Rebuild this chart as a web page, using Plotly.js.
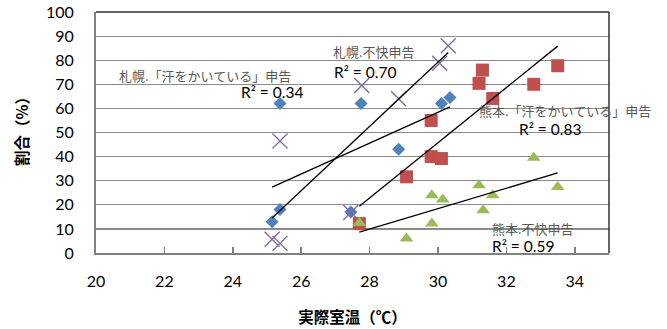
<!DOCTYPE html>
<html>
<head>
<meta charset="utf-8">
<script src="https://cdn.plot.ly/plotly-3.0.1.min.js"></script>
<style>html,body{margin:0;padding:0;background:#fff;}#chart{width:667px;height:329px;}</style>
</head>
<body>
<div id="chart"></div>
<script>
// 札幌「汗をかいている」申告 (blue diamonds)
const sapporoSweatX = [25.15, 25.38, 25.38, 27.45, 27.75, 28.85, 30.1, 30.35];
const sapporoSweatY = [13, 18, 62, 17, 62, 43, 62, 64.5];
// 札幌 不快申告 (purple x)
const sapporoDiscX = [25.15, 25.38, 25.38, 27.45, 27.77, 28.85, 30.05, 30.3];
const sapporoDiscY = [5.7, 4, 46.5, 16.8, 69.5, 64, 78.7, 86];
// 熊本「汗をかいている」申告 (red squares)
const kumaSweatX = [27.7, 29.08, 29.8, 29.8, 30.1, 31.2, 31.3, 31.6, 32.8, 33.5];
const kumaSweatY = [12.2, 31.6, 55, 40, 39.2, 70.4, 75.9, 64.1, 70, 77.7];
// 熊本 不快申告 (green triangles)
const kumaDiscX = [27.7, 29.08, 29.82, 29.82, 30.14, 31.2, 31.32, 31.6, 32.8, 33.5];
const kumaDiscY = [12.5, 6, 24, 12.2, 22.2, 28.1, 17.7, 24, 39.5, 27.4];

const xTicks = [20, 22, 24, 26, 28, 30, 32, 34];
const yTicks = [0, 10, 20, 30, 40, 50, 60, 70, 80, 90, 100];

const labels = ['札幌.「汗をかいている」申告', '札幌.不快申告', '熊本.「汗をかいている」申告', '熊本.不快申告'];
const r2Text = ['R² = 0.34', 'R² = 0.70', 'R² = 0.83', 'R² = 0.59'];
const xTitle = '実際室温（℃）';
const yTitle = '割合（%）';

function fit(xs, ys) {
  const n = xs.length;
  const mx = xs.reduce((a, b) => a + b, 0) / n;
  const my = ys.reduce((a, b) => a + b, 0) / n;
  let sxy = 0, sxx = 0;
  for (let i = 0; i < n; i++) { sxy += (xs[i] - mx) * (ys[i] - my); sxx += (xs[i] - mx) ** 2; }
  const b = sxy / sxx, a = my - b * mx;
  const x0 = Math.min(...xs), x1 = Math.max(...xs);
  return {x: [x0, x1], y: [a + b * x0, a + b * x1]};
}

const jp = '"Noto Sans CJK JP", sans-serif';
const num = 'Lato, "Noto Sans CJK JP", sans-serif';

const series = [
  {x: sapporoSweatX, y: sapporoSweatY, marker: {symbol: 'diamond', size: 10, color: '#4F81BD'}},
  {x: sapporoDiscX, y: sapporoDiscY, marker: {symbol: 'x-thin-open', size: 15, color: '#8064A2', line: {color: '#8064A2', width: 1.3}}},
  {x: kumaSweatX, y: kumaSweatY, marker: {symbol: 'square', size: 13, color: '#C0504D'}},
  {x: kumaDiscX, y: kumaDiscY, marker: {symbol: 'triangle-up', size: 12, color: '#9BBB59'}}
];

const traces = [];
series.forEach((s, i) => {
  traces.push({type: 'scatter', mode: 'markers', x: s.x, y: s.y, name: labels[i], marker: s.marker, cliponaxis: false, hoverinfo: 'x+y'});
});
series.forEach((s, i) => {
  const f = fit(s.x, s.y);
  traces.push({type: 'scatter', mode: 'lines', x: f.x, y: f.y, line: {color: '#000', width: 1.3}, hoverinfo: 'skip', name: labels[i] + ' 線形'});
});

const px2x = p => (p - 96) / 513;
const px2y = p => (253 - p) / 241;

const labPos = [[20.64, 73.6], [26.90, 83.6], [31.17, 59.0], [31.55, 10.0]];
const r2Pos = [[24.21, 66.7], [26.93, 74.9], [32.34, 51.5], [31.55, 2.9]];
const annotations = [];
labels.forEach((t, i) => {
  annotations.push({x: labPos[i][0], y: labPos[i][1], xref: 'x', yref: 'y', text: t, showarrow: false,
    xanchor: 'left', yanchor: 'middle', borderpad: 0, font: {family: jp, size: 13, color: '#595959'}});
  annotations.push({x: r2Pos[i][0], y: r2Pos[i][1], xref: 'x', yref: 'y', text: r2Text[i], showarrow: false,
    xanchor: 'left', yanchor: 'middle', borderpad: 0, font: {family: num, size: 15.5, color: '#000'}});
});
annotations.push({x: px2x(21), y: px2y(128), xref: 'paper', yref: 'paper', text: yTitle, textangle: -90, showarrow: false,
  xanchor: 'center', yanchor: 'middle', font: {family: jp, size: 15.5, color: '#000', weight: 'bold'}});

const layout = {
  width: 667, height: 329,
  margin: {l: 96, r: 58, t: 12, b: 76},
  paper_bgcolor: '#fff', plot_bgcolor: '#fff',
  showlegend: false,
  xaxis: {
    range: [20, 35], tickvals: xTicks, ticktext: xTicks.map(String),
    showgrid: false, zeroline: false,
    showline: true, linecolor: '#808080', linewidth: 2,
    ticks: 'inside', ticklen: 6, tickcolor: '#808080', tickwidth: 1.5,
    ticklabelstandoff: 13,
    tickfont: {family: num, size: 16, color: '#000'},
    title: {text: xTitle, font: {family: jp, size: 15.5, color: '#000', weight: 'bold'}, standoff: 23}
  },
  yaxis: {
    range: [0, 100], tickvals: yTicks, ticktext: yTicks.map(String),
    showgrid: true, gridcolor: '#8C8C8C', gridwidth: 1.2, zeroline: false,
    showline: true, linecolor: '#808080', linewidth: 2,
    ticks: 'outside', ticklen: 17, tickcolor: 'rgba(0,0,0,0)',
    tickfont: {family: num, size: 16, color: '#000'}
  },
  shapes: [
    {type: 'line', xref: 'paper', yref: 'paper', x0: 0, x1: 1, y0: 1, y1: 1, line: {color: '#333', width: 1.5}},
    {type: 'line', xref: 'paper', yref: 'paper', x0: 1, x1: 1, y0: 0, y1: 1, line: {color: '#333', width: 1.5}}
  ],
  annotations: annotations
};

Plotly.newPlot('chart', traces, layout, {displayModeBar: false, staticPlot: true});
</script>
</body>
</html>
